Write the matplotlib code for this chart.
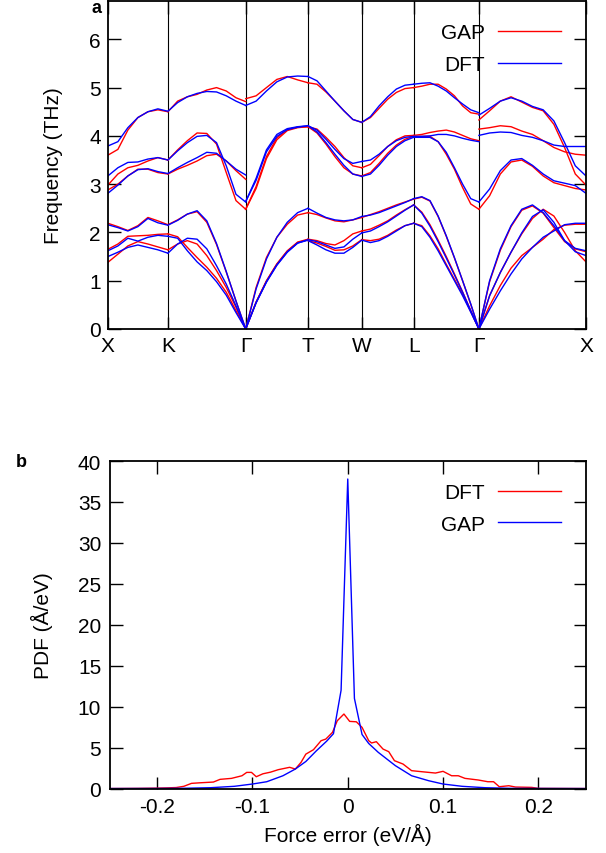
import matplotlib.pyplot as plt

plt.rcParams['font.family'] = ['Liberation Sans', 'DejaVu Sans']
plt.rcParams['font.size'] = 15

# ---- panel a: phonon dispersion ----
kpt_labels = ['X', 'K', 'Γ', 'T', 'W', 'L', 'Γ', 'X']
kpt_pos = [0, 60, 137.7, 200, 253.7, 305.5, 370.7, 477.7]

# fractional positions inside a segment
t7 = [0, 0.167, 0.333, 0.5, 0.667, 0.833, 1]
t9 = [0, 0.125, 0.25, 0.375, 0.5, 0.625, 0.75, 0.875, 1]
t11 = [0, 0.1, 0.2, 0.3, 0.4, 0.5, 0.6, 0.7, 0.8, 0.9, 1]

# frequencies (THz), six branches per segment
gap_XK = [[3.6, 3.72, 4.12, 4.38, 4.5, 4.54, 4.5],
          [2.98, 3.21, 3.34, 3.39, 3.48, 3.55, 3.5],
          [2.88, 3.0, 3.17, 3.31, 3.31, 3.24, 3.21],
          [2.19, 2.12, 2.04, 2.14, 2.31, 2.24, 2.16],
          [1.65, 1.76, 1.92, 1.93, 1.94, 1.96, 1.97],
          [1.38, 1.55, 1.72, 1.81, 1.76, 1.7, 1.64]]
dft_XK = [[3.79, 3.88, 4.17, 4.38, 4.5, 4.56, 4.51],
          [3.17, 3.34, 3.45, 3.46, 3.52, 3.55, 3.5],
          [2.81, 2.98, 3.17, 3.3, 3.32, 3.26, 3.22],
          [2.16, 2.1, 2.03, 2.12, 2.29, 2.2, 2.15],
          [1.62, 1.72, 1.88, 1.82, 1.9, 1.94, 1.92],
          [1.5, 1.59, 1.69, 1.74, 1.69, 1.64, 1.57]]

gap_KG = [[4.5, 4.72, 4.81, 4.86, 4.95, 5.0, 4.93, 4.79, 4.71],
          [3.5, 3.71, 3.9, 4.06, 4.05, 3.83, 3.24, 2.66, 2.48],
          [3.21, 3.31, 3.39, 3.48, 3.59, 3.62, 3.48, 3.28, 3.1],
          [2.16, 2.26, 2.38, 2.43, 2.21, 1.75, 1.18, 0.58, 0],
          [1.97, 1.91, 1.69, 1.48, 1.28, 1.05, 0.76, 0.38, 0],
          [1.64, 1.76, 1.83, 1.76, 1.52, 1.21, 0.86, 0.45, 0]]
dft_KG = [[4.51, 4.69, 4.81, 4.88, 4.92, 4.91, 4.83, 4.72, 4.63],
          [3.5, 3.69, 3.86, 3.99, 4.01, 3.86, 3.38, 2.79, 2.63],
          [3.22, 3.34, 3.45, 3.55, 3.66, 3.64, 3.48, 3.31, 3.19],
          [2.15, 2.25, 2.38, 2.45, 2.24, 1.77, 1.19, 0.58, 0],
          [1.92, 1.88, 1.62, 1.39, 1.21, 0.98, 0.7, 0.34, 0],
          [1.57, 1.76, 1.88, 1.86, 1.66, 1.31, 0.93, 0.48, 0]]

gap_GT = [[4.77, 4.83, 5.0, 5.17, 5.23, 5.16, 5.1],
          [2.48, 2.95, 3.57, 3.96, 4.13, 4.18, 4.19],
          [2.48, 2.91, 3.53, 3.92, 4.11, 4.17, 4.19],
          [0, 0.86, 1.48, 1.9, 2.17, 2.36, 2.41],
          [0, 0.56, 1.0, 1.35, 1.62, 1.8, 1.86],
          [0, 0.55, 0.99, 1.34, 1.61, 1.79, 1.85]]
dft_GT = [[4.63, 4.72, 4.93, 5.12, 5.22, 5.24, 5.23],
          [2.64, 3.12, 3.71, 4.03, 4.15, 4.19, 4.21],
          [2.64, 3.08, 3.67, 3.99, 4.13, 4.18, 4.21],
          [0, 0.83, 1.45, 1.9, 2.21, 2.41, 2.5],
          [0, 0.55, 0.98, 1.33, 1.6, 1.78, 1.85],
          [0, 0.54, 0.97, 1.32, 1.59, 1.78, 1.84]]

gap_TW = [[5.1, 5.07, 4.91, 4.72, 4.52, 4.34, 4.28],
          [4.19, 4.14, 3.97, 3.78, 3.55, 3.38, 3.34],
          [4.19, 4.06, 3.83, 3.57, 3.34, 3.21, 3.17],
          [2.41, 2.37, 2.3, 2.24, 2.22, 2.26, 2.31],
          [1.86, 1.83, 1.77, 1.74, 1.83, 1.97, 2.03],
          [1.83, 1.78, 1.71, 1.63, 1.64, 1.72, 1.85]]
dft_TW = [[5.23, 5.14, 4.93, 4.72, 4.52, 4.34, 4.28],
          [4.21, 4.12, 3.93, 3.72, 3.53, 3.43, 3.47],
          [4.21, 4.08, 3.86, 3.62, 3.39, 3.21, 3.16],
          [2.5, 2.4, 2.31, 2.26, 2.24, 2.26, 2.33],
          [1.85, 1.81, 1.74, 1.67, 1.7, 1.86, 1.99],
          [1.83, 1.74, 1.64, 1.57, 1.57, 1.69, 1.84]]

gap_WL = [[4.28, 4.38, 4.57, 4.76, 4.9, 4.98, 5.0],
          [3.34, 3.41, 3.59, 3.78, 3.92, 4.0, 4.01],
          [3.17, 3.24, 3.43, 3.64, 3.81, 3.93, 3.99],
          [2.31, 2.37, 2.43, 2.5, 2.57, 2.63, 2.69],
          [2.03, 2.07, 2.15, 2.24, 2.36, 2.47, 2.57],
          [1.85, 1.83, 1.86, 1.94, 2.05, 2.14, 2.19]]
dft_WL = [[4.28, 4.4, 4.62, 4.81, 4.97, 5.05, 5.07],
          [3.47, 3.5, 3.62, 3.78, 3.9, 3.97, 3.99],
          [3.16, 3.21, 3.39, 3.6, 3.78, 3.9, 3.97],
          [2.33, 2.36, 2.41, 2.48, 2.55, 2.62, 2.7],
          [1.99, 2.03, 2.12, 2.22, 2.34, 2.46, 2.57],
          [1.84, 1.79, 1.83, 1.92, 2.03, 2.14, 2.19]]

gap_LG = [[5.0, 5.03, 5.07, 5.07, 4.97, 4.83, 4.62, 4.48, 4.45],
          [4.01, 4.03, 4.07, 4.1, 4.12, 4.08, 4.01, 3.94, 3.9],
          [3.99, 3.99, 3.99, 3.88, 3.62, 3.31, 2.93, 2.59, 2.48],
          [2.69, 2.73, 2.65, 2.33, 1.92, 1.47, 1.0, 0.51, 0],
          [2.57, 2.42, 2.16, 1.84, 1.5, 1.14, 0.77, 0.38, 0],
          [2.19, 2.14, 1.93, 1.66, 1.34, 1.03, 0.72, 0.36, 0]]
dft_LG = [[5.07, 5.09, 5.1, 5.03, 4.93, 4.79, 4.66, 4.54, 4.48],
          [3.99, 3.99, 4.0, 4.03, 4.03, 4.0, 3.95, 3.91, 3.88],
          [3.97, 3.97, 3.97, 3.88, 3.66, 3.34, 3.0, 2.7, 2.63],
          [2.7, 2.74, 2.66, 2.34, 1.93, 1.48, 1.0, 0.52, 0],
          [2.57, 2.4, 2.13, 1.81, 1.47, 1.12, 0.76, 0.38, 0],
          [2.19, 2.12, 1.9, 1.62, 1.31, 1.0, 0.69, 0.35, 0]]

gap_GX = [[4.33, 4.52, 4.72, 4.81, 4.7, 4.59, 4.52, 4.24, 3.76, 3.21, 2.98],
          [4.14, 4.17, 4.21, 4.19, 4.1, 4.03, 3.9, 3.76, 3.67, 3.62, 3.6],
          [2.48, 2.76, 3.21, 3.46, 3.5, 3.37, 3.17, 3.03, 2.97, 2.91, 2.88],
          [0, 0.98, 1.63, 2.12, 2.46, 2.55, 2.4, 2.1, 1.81, 1.66, 1.6],
          [0, 0.69, 1.17, 1.59, 1.97, 2.29, 2.48, 2.34, 2.0, 1.62, 1.39],
          [0, 0.48, 0.9, 1.26, 1.52, 1.69, 1.86, 2.06, 2.15, 2.17, 2.17]]
dft_GX = [[4.43, 4.57, 4.72, 4.79, 4.72, 4.61, 4.54, 4.31, 3.86, 3.38, 3.17],
          [4.01, 4.06, 4.08, 4.07, 4.01, 3.97, 3.9, 3.81, 3.78, 3.78, 3.78],
          [2.63, 2.9, 3.28, 3.5, 3.53, 3.39, 3.21, 3.07, 3.02, 2.97, 2.81],
          [0, 1.0, 1.66, 2.14, 2.48, 2.57, 2.41, 2.14, 1.83, 1.67, 1.62],
          [0, 0.69, 1.17, 1.59, 1.99, 2.33, 2.47, 2.21, 1.83, 1.6, 1.52],
          [0, 0.41, 0.79, 1.14, 1.45, 1.69, 1.9, 2.03, 2.16, 2.19, 2.19]]

# ---- panel b: force error distribution ----
dft_err = [-0.25, -0.22, -0.2, -0.19, -0.18, -0.172, -0.164, -0.155, -0.141, -0.134,
           -0.122, -0.111, -0.106, -0.101, -0.096, -0.089, -0.081, -0.073, -0.061,
           -0.055, -0.049, -0.044, -0.036, -0.028, -0.023, -0.016, -0.011, -0.004,
           0.002, 0.009, 0.015, 0.022, 0.025, 0.03, 0.037, 0.043, 0.049, 0.058,
           0.067, 0.078, 0.092, 0.1, 0.109, 0.116, 0.123, 0.137, 0.147, 0.153,
           0.159, 0.169, 0.176, 0.193, 0.2, 0.25]
dft_pdf = [0, 0.02, 0.05, 0.08, 0.12, 0.27, 0.63, 0.7, 0.79, 1.12,
           1.24, 1.56, 1.97, 1.97, 1.44, 1.8, 2.0, 2.3, 2.59,
           2.38, 3.2, 4.2, 4.74, 5.84, 6.04, 6.86, 8.28, 9.1,
           8.2, 8.15, 7.47, 5.84, 5.56, 5.72, 4.82, 4.5, 3.4, 2.99,
           2.18, 2.05, 1.89, 2.1, 1.56, 1.56, 1.24, 1.04, 0.83, 0.83,
           0.22, 0.34, 0.18, 0.14, 0.02, 0]
gap_err = [-0.25, -0.2, -0.172, -0.144, -0.119, -0.1, -0.085, -0.068, -0.055,
           -0.044, -0.033, -0.022, -0.015, -0.007, 0, 0.007, 0.015, 0.022, 0.032,
           0.05, 0.067, 0.085, 0.1, 0.12, 0.144, 0.172, 0.2, 0.25]
gap_pdf = [0, 0.01, 0.03, 0.1, 0.27, 0.55, 0.83, 1.56, 2.38,
           3.3, 4.6, 5.8, 6.7, 12.0, 37.8, 11.0, 6.6, 5.5, 4.42,
           2.79, 1.56, 0.95, 0.55, 0.27, 0.1, 0.02, 0.01, 0]

red = '#ff0000'
blue = '#0000ff'

fig = plt.figure(figsize=(6.06, 8.54), dpi=100)

# panel a
ax1 = fig.add_axes([0.178, 0.6136, 0.789, 0.3844])
segments = [(t7, gap_XK, dft_XK), (t9, gap_KG, dft_KG), (t7, gap_GT, dft_GT),
            (t7, gap_TW, dft_TW), (t7, gap_WL, dft_WL), (t9, gap_LG, dft_LG),
            (t11, gap_GX, dft_GX)]
for i, (t, gap, dft) in enumerate(segments):
    x0, x1 = kpt_pos[i], kpt_pos[i + 1]
    xs = [x0 + f * (x1 - x0) for f in t]
    for branch in gap:
        ax1.plot(xs, branch, color=red, lw=1.0)
    for branch in dft:
        ax1.plot(xs, branch, color=blue, lw=1.0)

for p in kpt_pos[1:-1]:
    ax1.axvline(p, color='black', lw=0.8, zorder=0)

ax1.set_xlim(kpt_pos[0], kpt_pos[-1])
ax1.set_ylim(0, 6.8)
ax1.set_xticks(kpt_pos)
ax1.set_xticklabels(kpt_labels)
ax1.set_yticks(range(0, 7))
ax1.tick_params(direction='in', length=9, width=1, top=True, right=True, pad=5)
ax1.set_ylabel('Frequency (THz)')
ax1.yaxis.set_label_coords(-0.094, 0.5)
for s in ax1.spines.values():
    s.set_linewidth(1.3)

h1 = ax1.plot([], [], color=red, lw=1.0, label='GAP')[0]
h2 = ax1.plot([], [], color=blue, lw=1.0, label='DFT')[0]
ax1.legend(handles=[h1, h2], loc='upper right', bbox_to_anchor=(0.978, 0.975),
           frameon=False, markerfirst=False, handlelength=3.0,
           handletextpad=0.65, labelspacing=0.6, borderaxespad=0.3)

fig.text(0.16, 0.99, 'a', fontsize=13, fontweight='bold', ha='center', va='center')

# panel b
ax2 = fig.add_axes([0.1807, 0.0755, 0.7863, 0.3835])
ax2.plot(dft_err, dft_pdf, color=red, lw=1.0, label='DFT')
ax2.plot(gap_err, gap_pdf, color=blue, lw=1.0, label='GAP')
ax2.set_xlim(-0.25, 0.25)
ax2.set_ylim(0, 40)
ax2.set_xticks([-0.2, -0.1, 0, 0.1, 0.2])
ax2.set_xticklabels(['-0.2', '-0.1', '0', '0.1', '0.2'])
ax2.set_yticks(range(0, 41, 5))
ax2.tick_params(direction='in', length=9, width=1, top=True, right=True, pad=6)
ax2.set_ylabel('PDF (Å/eV)')
ax2.set_xlabel('Force error (eV/Å)')
ax2.yaxis.set_label_coords(-0.119, 0.5)
ax2.xaxis.set_label_coords(0.5, -0.106)
for s in ax2.spines.values():
    s.set_linewidth(1.3)
ax2.legend(loc='upper right', bbox_to_anchor=(0.978, 0.977),
           frameon=False, markerfirst=False, handlelength=3.0,
           handletextpad=0.65, labelspacing=0.6, borderaxespad=0.3)

fig.text(0.035, 0.459, 'b', fontsize=13, fontweight='bold', ha='center', va='center')

plt.savefig('out.png', dpi=100)
